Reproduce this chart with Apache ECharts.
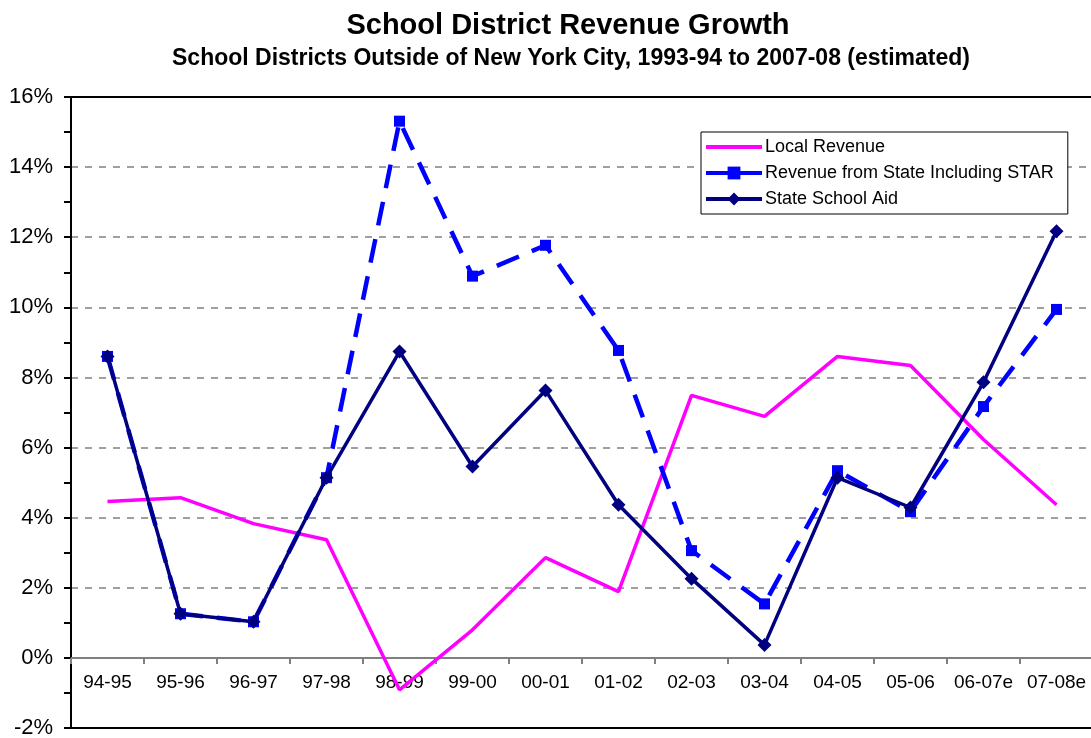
<!DOCTYPE html>
<html>
<head>
<meta charset="utf-8">
<script src="https://cdn.jsdelivr.net/npm/echarts@6/dist/echarts.min.js"></script>
<style>
  html, body { margin: 0; padding: 0; background: #fff; }
  #chart { width: 1091px; height: 738px; }
</style>
</head>
<body>
<div id="chart"></div>
<script>
// school district revenue growth, percent
var years = ['94-95', '95-96', '96-97', '97-98', '98-99', '99-00', '00-01', '01-02', '02-03', '03-04', '04-05', '05-06', '06-07e', '07-08e'];
var localRevenue = [4.46, 4.57, 3.83, 3.37, -0.91, 0.8, 2.86, 1.89, 7.49, 6.89, 8.6, 8.34, 6.23, 4.37];
var stateWithStar = [8.6, 1.26, 1.03, 5.14, 15.31, 10.89, 11.77, 8.77, 3.06, 1.54, 5.34, 4.17, 7.17, 9.94];
var stateAid = [8.6, 1.26, 1.03, 5.14, 8.74, 5.46, 7.63, 4.37, 2.26, 0.37, 5.14, 4.29, 7.86, 12.17];

var chart = echarts.init(document.getElementById('chart'));
chart.setOption({
  animation: false,
  textStyle: { fontFamily: 'Liberation Sans, Arial, sans-serif' },
  title: [{
    text: 'School District Revenue Growth',
    left: 563, top: 6, textAlign: 'center',
    textStyle: { fontSize: 29, fontWeight: 'bold', color: '#000' }
  }, {
    text: 'School Districts Outside of New York City, 1993-94 to 2007-08 (estimated)',
    left: 566, top: 42, textAlign: 'center',
    textStyle: { fontSize: 23, fontWeight: 'bold', color: '#000' }
  }],
  legend: {
    orient: 'vertical',
    left: 701, top: 132,
    padding: [6, 14, 6, 3],
    itemGap: 8,
    itemWidth: 56, itemHeight: 16,
    borderColor: '#000', borderWidth: 1,
    backgroundColor: '#fff',
    textStyle: { fontSize: 18, color: '#000', padding: [0, 0, 0, -2] },
    data: [
      { name: 'Local Revenue', itemStyle: { opacity: 0 }, lineStyle: { width: 4 } },
      { name: 'Revenue from State Including STAR', lineStyle: { width: 4, type: 'solid' } },
      { name: 'State School Aid', lineStyle: { width: 4 } }
    ]
  },
  grid: { left: 71, top: 97, width: 1022, bottom: 10, outerBoundsMode: 'none' },
  xAxis: {
    type: 'category',
    data: years,
    boundaryGap: true,
    offset: -70,
    axisLine: { onZero: false, lineStyle: { color: '#808080', width: 2 } },
    axisTick: { show: true, interval: 0, length: 6, lineStyle: { color: '#808080', width: 2 } },
    axisLabel: { interval: 0, fontSize: 19, color: '#000', margin: 15 },
    splitLine: { show: false }
  },
  yAxis: {
    type: 'value',
    min: -2, max: 16, interval: 2,
    axisLine: { show: true, lineStyle: { color: '#000', width: 2 } },
    axisTick: { show: true, length: 7, lineStyle: { color: '#000', width: 2 } },
    minorTick: { show: true, splitNumber: 2, length: 7, lineStyle: { color: '#000', width: 2 } },
    axisLabel: { fontSize: 22, color: '#000', margin: 18, formatter: '{value}%' },
    splitLine: { show: true, lineStyle: { color: '#808080', type: [7, 7], width: 1.5 } }
  },
  series: [{
    name: 'Local Revenue',
    type: 'line',
    data: localRevenue,
    color: '#FF00FF',
    symbol: 'none',
    lineStyle: { width: 3.5, color: '#FF00FF' },
    markLine: {
      silent: true, symbol: 'none', label: { show: false },
      lineStyle: { color: '#000', type: 'solid', width: 2 },
      data: [{ yAxis: 16 }, { yAxis: -2 }]
    },
    z: 2
  }, {
    name: 'Revenue from State Including STAR',
    type: 'line',
    data: stateWithStar,
    color: '#0000FF',
    symbol: 'rect', symbolSize: 11,
    itemStyle: { color: '#0000FF' },
    lineStyle: { width: 4.5, color: '#0000FF', type: [24, 14] },
    z: 3
  }, {
    name: 'State School Aid',
    type: 'line',
    data: stateAid,
    color: '#000080',
    symbol: 'diamond', symbolSize: 14,
    itemStyle: { color: '#000080' },
    lineStyle: { width: 3.5, color: '#000080' },
    z: 4
  }]
});
</script>
</body>
</html>
